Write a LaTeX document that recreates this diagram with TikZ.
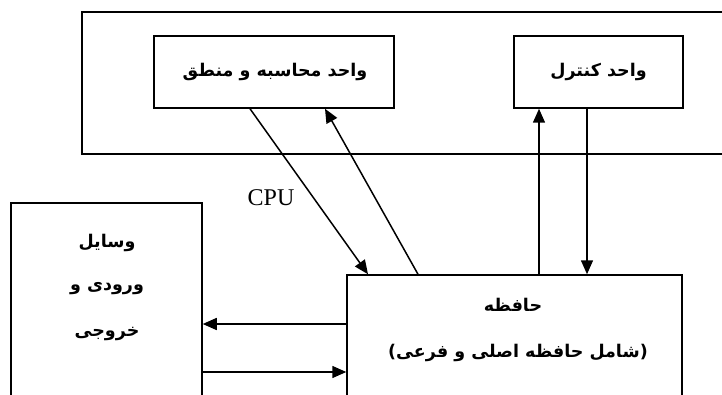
\documentclass[tikz,border=0pt]{standalone}
\usepackage{fontspec}
\setmainfont{Liberation Serif}
\newfontfamily\fa[Script=Arabic]{DejaVu Sans}
\TeXXeTstate=1
\usetikzlibrary{arrows.meta}
\tikzset{
  box/.style={draw, line width=1.5pt, inner sep=0pt},
  cpubox/.style={draw, line width=1.8pt, inner sep=0pt},
  txt/.style={font=\fa\bfseries\fontsize{17.5}{20}\selectfont, inner sep=0pt},
  arr/.style={line width=1.5pt, -{Triangle[length=14pt,width=12pt]}},
}
\begin{document}
\begin{tikzpicture}[x=1pt,y=-1pt]
\useasboundingbox (0,0) rectangle (722,395);
\clip (0,0) rectangle (722,395);
\node[cpubox, minimum width=660pt, minimum height=142pt] (cpu) at (412,83) {};
\node[box, minimum width=240pt, minimum height=72pt] (alu) at (274,72) {};
\node[box, minimum width=169pt, minimum height=72pt] (ctrl) at (598.5,72) {};
\node[box, minimum width=335pt, minimum height=145pt] (mem) at (514.5,347.5) {};
\node[box, minimum width=191pt, minimum height=217pt] (io) at (106.5,311.5) {};
\node[txt] (alut) at (275,72) {\beginR واحد محاسبه و منطق\endR};
\node[txt] (ctrlt) at (598.5,72) {\beginR واحد کنترل\endR};
\node[txt] (io1) at (107,243) {\beginR وسایل\endR};
\node[txt] (io2) at (107,289) {\beginR ورودی و\endR};
\node[txt] (io3) at (107,334) {\beginR خروجی\endR};
\node[txt] (mem1) at (513,305) {\beginR حافظه\endR};
\node[txt] (mem2) at (518,353) {\beginR (شامل حافظه اصلی و فرعی)\endR};
\node[font=\fontsize{24}{26}\selectfont, inner sep=0pt] (cpul) at (271,198) {CPU};
\draw[arr] ([xshift=-24pt]alu.south) -- ([xshift=-146.5pt]mem.north);
\draw[arr] ([xshift=-96.5pt]mem.north) -- ([xshift=51pt]alu.south);
\draw[arr] ([xshift=24.5pt]mem.north) -- ([xshift=-59.5pt]ctrl.south);
\draw[arr] ([xshift=-11.5pt]ctrl.south) -- ([xshift=72.5pt]mem.north);
\draw[arr] (mem.west |- 0,324) -- (io.east |- 0,324);
\draw[arr] (io.east |- 0,372) -- (mem.west |- 0,372);
\end{tikzpicture}
\end{document}
